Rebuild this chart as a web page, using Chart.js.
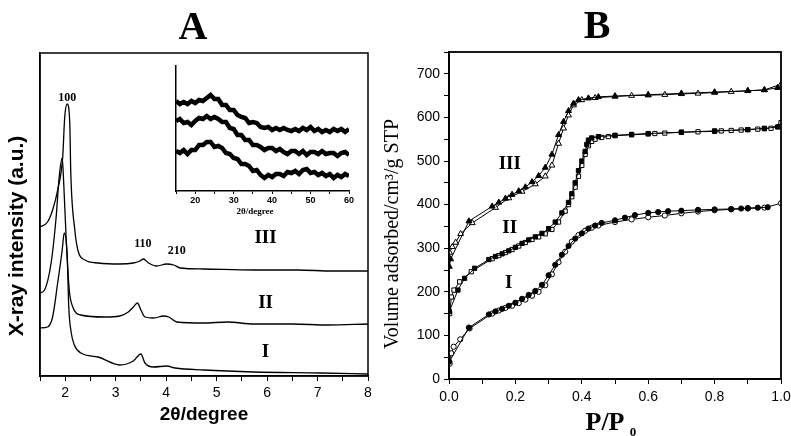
<!DOCTYPE html>
<html><head><meta charset="utf-8">
<script src="https://cdn.jsdelivr.net/npm/chart.js@4.4.1/dist/chart.umd.min.js"></script>
<style>
html,body{margin:0;padding:0;background:#fff;width:791px;height:436px;overflow:hidden;position:relative}
canvas{position:absolute}
</style></head><body>
<canvas id="cA" width="395" height="436" style="left:0;top:0"></canvas>
<canvas id="cIn" width="215" height="165" style="left:150px;top:55px"></canvas>
<canvas id="cB" width="430" height="436" style="left:375px;top:0"></canvas>
<script>
// ---------- Panel A : XRD patterns (2θ / degree, intensity a.u.) ----------
const xrdX_III = [1.5,1.65,1.75,1.85,1.95,1.99,2.04,2.09,2.11,2.19,2.25,2.39,2.65,3.08,3.35,3.48,3.55,3.65,3.81,4.01,4.15,4.28,4.74,5.74,6.6,7.3,8.0];
const xrdY_III = [149,154,166,186,219,259,272,253,203,146,126,116,113,112,113,115,117,113,110,112,111,108,107,106,106,105,105];
const xrdX_II  = [1.5,1.59,1.72,1.82,1.88,1.94,1.97,2.02,2.08,2.15,2.31,2.78,3.08,3.25,3.35,3.43,3.50,3.58,3.75,3.95,4.05,4.21,4.74,5.21,5.74,6.5,7.2,8.0];
const xrdY_II  = [83,86,113,159,199,218,193,136,86,69,61,59,60,64,69,73,66,59,58,60,59,54,53,54,52,52,51,52];
const xrdX_I   = [1.5,1.65,1.75,1.85,1.94,1.98,2.04,2.07,2.12,2.18,2.31,2.65,3.08,3.35,3.50,3.58,3.75,4.01,4.18,4.74,5.74,7.06,8.0];
const xrdY_I   = [48,49,59,93,126,143,119,69,43,31,23,19,11,15,22,13,9,10,8,6,4,3,2];
const xTicksA  = [2,3,4,5,6,7,8];
const peakLabels = ['100','110','210'];
const peakX = [2.04,3.54,4.21];
const peakY = [278,132,125];
const sampleLabels = ['III','II','I'];
const sampleXA = [5.97,5.97,5.97];
const sampleYA = [138,73,24];

// ---------- Inset : wide-angle XRD (15–60°) ----------
const insetX  = [15,16,17,18,19,20,21,22,23,24,25,26,27,28,29,30,31,32,33,34,35,36,37,38,39,40,41,42,43,44,45,46,47,48,49,50,51,52,53,54,55,56,57,58,59,60];
const insetTop = [222,219,221,219,222,220,223,222,225,228,224,224,218,218,213,213,208,206,205,200,201,200,196,195,196,193,195,193,195,193,192,194,192,195,193,196,192,194,191,193,191,194,192,194,191,194];
const insetMid = [202,204,200,201,198,202,205,204,207,204,206,204,201,201,195,194,188,188,183,183,178,178,176,173,175,175,172,174,171,169,172,172,169,172,168,171,171,169,172,169,170,170,167,170,171,168];
const insetBot = [172,170,173,169,173,173,178,178,181,181,176,177,175,170,169,165,164,159,159,157,152,153,148,145,148,146,149,149,147,151,150,152,149,153,154,150,151,148,150,147,149,145,148,146,149,147];

// ---------- Panel B : N2 isotherms (P/P0, cm3/g STP) ----------
const iso3AdsP = [0.001,0.005,0.06,0.13,0.15,0.17,0.19,0.21,0.23,0.25,0.27,0.29,0.31,0.33,0.345,0.36,0.375,0.39,0.42,0.45,0.5,0.6,0.7,0.8,0.9,0.95,0.99];
const iso3AdsV = [258,275,362,396,405,414,423,431,440,452,466,485,515,560,590,615,632,640,644,647,649,652,655,658,661,663,668];
const iso3DesP = [0.002,0.01,0.02,0.035,0.07,0.14,0.18,0.22,0.26,0.29,0.31,0.33,0.345,0.36,0.375,0.4,0.44,0.5,0.55,0.6,0.65,0.7,0.75,0.8,0.85,0.9,0.95,1.0];
const iso3DesV = [290,303,313,333,358,393,415,430,447,465,490,540,575,605,628,640,645,648,650,651,652,654,655,657,659,661,663,676];
const iso2AdsP = [0.001,0.027,0.047,0.077,0.12,0.14,0.16,0.18,0.2,0.22,0.24,0.26,0.28,0.3,0.32,0.34,0.36,0.37,0.38,0.39,0.40,0.41,0.415,0.42,0.43,0.45,0.5,0.55,0.6,0.7,0.8,0.9,0.95,0.99];
const iso2AdsV = [155,204,231,254,274,281,287,294,302,311,319,326,334,345,360,381,405,425,450,478,500,522,538,548,553,556,559,561,563,566,569,572,575,578];
const iso2DesP = [0.002,0.007,0.015,0.032,0.067,0.13,0.15,0.17,0.19,0.21,0.23,0.25,0.27,0.29,0.31,0.33,0.35,0.36,0.37,0.38,0.39,0.40,0.41,0.42,0.43,0.44,0.46,0.48,0.5,0.55,0.6,0.62,0.65,0.7,0.75,0.8,0.82,0.85,0.88,0.9,0.93,0.95,0.97,1.0];
const iso2DesV = [150,188,204,223,246,276,283,290,297,305,313,320,326,333,343,360,385,400,418,440,465,490,515,535,545,550,554,556,558,560,562,563,564,566,567,568,569,570,571,572,573,574,575,588];
const iso1AdsP = [0.001,0.06,0.12,0.14,0.16,0.18,0.20,0.22,0.24,0.26,0.28,0.30,0.32,0.34,0.36,0.38,0.40,0.42,0.44,0.46,0.5,0.53,0.56,0.6,0.63,0.66,0.7,0.75,0.8,0.85,0.88,0.9,0.93,0.96];
const iso1AdsV = [40,118,148,155,161,168,175,184,193,202,216,238,262,285,305,322,334,345,352,358,364,370,376,381,383,385,386,388,389,390,391,392,393,394];
const iso1DesP = [0.002,0.007,0.014,0.034,0.062,0.13,0.15,0.17,0.19,0.21,0.23,0.25,0.27,0.29,0.31,0.33,0.35,0.37,0.39,0.41,0.43,0.45,0.5,0.55,0.6,0.65,0.7,0.75,0.8,0.85,0.9,0.95,1.0];
const iso1DesV = [35,59,74,91,116,150,157,163,168,174,182,191,200,215,240,268,292,315,330,340,347,352,360,366,371,375,380,384,387,389,391,393,403];
const sampleXB = [0.183,0.183,0.18];
const sampleYB = [492,345,220];

// ---------- helpers ----------
const SANS = '"Liberation Sans", Arial, sans-serif';
const SERIF = '"Liberation Serif", "Times New Roman", serif';
const pts = (xs, ys) => xs.map((x, i) => ({x: x, y: ys[i]}));

function framePlugin(width) {
  return { id: 'frame', afterDraw(chart) {
    const {ctx, chartArea: a} = chart;
    ctx.save(); ctx.strokeStyle = '#000'; ctx.lineWidth = width;
    ctx.strokeRect(a.left, a.top, a.right - a.left, a.bottom - a.top);
    ctx.restore();
  }};
}
function textPlugin(items) {
  return { id: 'texts', afterDraw(chart) {
    const ctx = chart.ctx;
    items.forEach(t => {
      let x = t.x, y = t.y;
      if (t.data) { x = chart.scales.x.getPixelForValue(t.x); y = chart.scales.y.getPixelForValue(t.y); }
      ctx.save(); ctx.translate(x, y); if (t.rot) ctx.rotate(t.rot);
      ctx.font = t.font; ctx.fillStyle = '#000';
      ctx.textAlign = t.align || 'center'; ctx.textBaseline = 'middle';
      ctx.fillText(t.text, 0, 0); ctx.restore();
    });
  }};
}

// ---------- Chart A ----------
const textA = [
  {text: 'A', x: 193, y: 29, font: 'bold 40px ' + SERIF},
  {text: 'X-ray intensity (a.u.)', x: 17, y: 236, rot: -Math.PI / 2, font: 'bold 21px ' + SANS},
  {text: '2θ/degree', x: 204, y: 415, font: 'bold 19px ' + SANS}
];
peakLabels.forEach((s, i) => textA.push({text: s, x: peakX[i], y: peakY[i], data: true, font: 'bold 12px ' + SERIF}));
sampleLabels.forEach((s, i) => textA.push({text: s, x: sampleXA[i], y: sampleYA[i], data: true, font: 'bold 19px ' + SERIF}));

new Chart(document.getElementById('cA'), {
  type: 'line',
  data: { datasets: [
    {data: pts(xrdX_III, xrdY_III)},
    {data: pts(xrdX_II, xrdY_II)},
    {data: pts(xrdX_I, xrdY_I)}
  ]},
  options: {
    responsive: false, animation: false, devicePixelRatio: 1,
    layout: {padding: {left: 0, top: 53, right: 27, bottom: 0}},
    elements: {line: {borderColor: '#000', borderWidth: 1.3, tension: 0, cubicInterpolationMode: 'monotone', fill: false}, point: {radius: 0}},
    plugins: {legend: {display: false}, tooltip: {enabled: false}},
    scales: {
      x: {type: 'linear', min: 1.5, max: 8,
        afterFit: s => { s.height = 60; },
        ticks: {stepSize: 0.5, autoSkip: false, maxRotation: 0, color: '#000', padding: 4,
          font: {family: SANS, size: 14},
          callback: v => xTicksA.includes(v) ? String(v) : ''},
        grid: {drawOnChartArea: false, color: '#000', tickLength: 5, lineWidth: 1},
        border: {color: '#000', width: 1.5}},
      y: {min: 0, max: 323, afterFit: s => { s.width = 40; },
        ticks: {display: false}, grid: {display: false}, border: {color: '#000', width: 1.5}}
    }
  },
  plugins: [framePlugin(1.5), textPlugin(textA)]
});

// ---------- Inset ----------
new Chart(document.getElementById('cIn'), {
  type: 'line',
  data: { datasets: [
    {data: pts(insetX, insetTop)},
    {data: pts(insetX, insetMid)},
    {data: pts(insetX, insetBot)}
  ]},
  options: {
    responsive: false, animation: false, devicePixelRatio: 1,
    layout: {padding: {left: 0, top: 11, right: 16, bottom: 0}},
    elements: {line: {borderColor: '#000', borderWidth: 4.5, tension: 0, fill: false, borderJoinStyle: 'miter'}, point: {radius: 0}},
    plugins: {legend: {display: false}, tooltip: {enabled: false}},
    scales: {
      x: {type: 'linear', min: 15, max: 60,
        afterFit: s => { s.height = 29; },
        ticks: {stepSize: 5, autoSkip: false, maxRotation: 0, color: '#000', padding: 1,
          font: {family: SANS, size: 9, weight: 'bold'},
          callback: v => (v % 10 === 0) ? String(v) : ''},
        grid: {drawOnChartArea: false, color: '#000', tickLength: 3, lineWidth: 1},
        border: {color: '#000', width: 1.5}},
      y: {min: 132, max: 257, afterFit: s => { s.width = 26; },
        ticks: {display: false}, grid: {display: false}, border: {color: '#000', width: 1.5}}
    }
  },
  plugins: [textPlugin([{text: '2θ/degree', x: 105, y: 157, font: 'bold 9px ' + SERIF}])]
});

// ---------- Chart B ----------
const textB = [
  {text: 'B', x: 222, y: 28, font: 'bold 40px ' + SERIF},
  {text: 'Volume adsorbed/cm³/g STP', x: 18, y: 234, rot: -Math.PI / 2, font: '20px ' + SERIF},
  {text: 'P/P', x: 230, y: 423, font: 'bold 26px ' + SERIF},
  {text: '0', x: 258, y: 433, font: 'bold 13px ' + SERIF}
];
sampleLabels.forEach((s, i) => textB.push({text: s, x: sampleXB[i], y: sampleYB[i], data: true, font: 'bold 19px ' + SERIF}));

function iso(p, v, style, filled, r) {
  return {data: pts(p, v), pointStyle: style, pointRadius: r,
    pointBackgroundColor: filled ? '#000' : '#fff', pointBorderColor: '#000', pointBorderWidth: 1,
    borderColor: '#000', borderWidth: 1, tension: 0, fill: false, showLine: true};
}

new Chart(document.getElementById('cB'), {
  type: 'line',
  data: { datasets: [
    iso(iso1AdsP, iso1AdsV, 'circle', true, 2.6),
    iso(iso1DesP, iso1DesV, 'circle', false, 2.6),
    iso(iso2AdsP, iso2AdsV, 'rect', true, 3),
    iso(iso2DesP, iso2DesV, 'rect', false, 3),
    iso(iso3AdsP, iso3AdsV, 'triangle', true, 3.4),
    iso(iso3DesP, iso3DesV, 'triangle', false, 3.4)
  ]},
  options: {
    responsive: false, animation: false, devicePixelRatio: 1,
    layout: {padding: {left: 0, top: 52, right: 24, bottom: 0}},
    plugins: {legend: {display: false}, tooltip: {enabled: false}},
    scales: {
      x: {type: 'linear', min: 0, max: 1,
        afterFit: s => { s.height = 57; },
        ticks: {stepSize: 0.1, autoSkip: false, maxRotation: 0, color: '#000', padding: 5,
          font: {family: SANS, size: 14},
          callback: v => { const k = Math.round(v * 10); return k % 2 === 0 ? (k / 10).toFixed(1) : ''; }},
        grid: {drawOnChartArea: false, color: '#000', tickLength: 5, lineWidth: 1},
        border: {color: '#000', width: 1.8}},
      y: {min: 0, max: 750,
        afterFit: s => { s.width = 74; },
        ticks: {stepSize: 50, autoSkip: false, color: '#000', padding: 4,
          font: {family: SANS, size: 14},
          callback: v => (v % 100 === 0 && v <= 700) ? String(v) : ''},
        grid: {drawOnChartArea: false, color: '#000', tickLength: 5, lineWidth: 1},
        border: {color: '#000', width: 1.8}}
    }
  },
  plugins: [framePlugin(1.8), textPlugin(textB)]
});
</script>
</body></html>
